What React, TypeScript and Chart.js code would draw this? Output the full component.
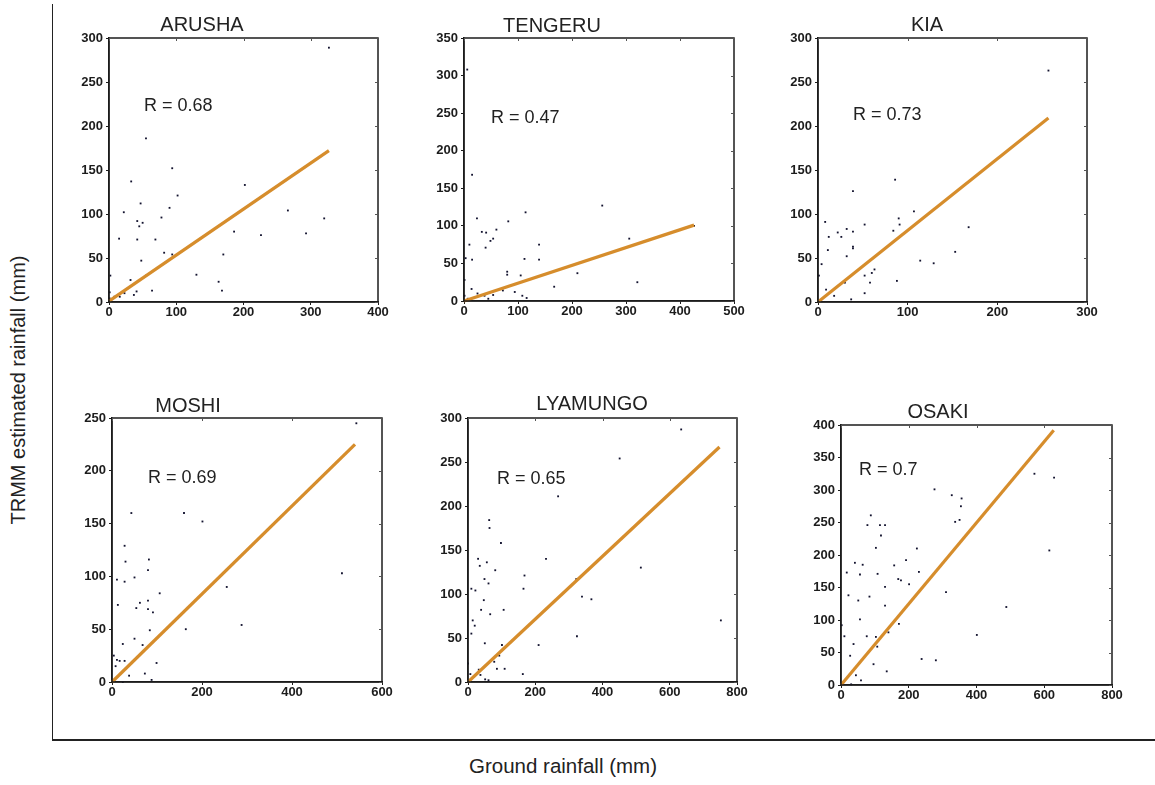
import React, { useEffect, useRef } from 'react';
import { Chart, registerables } from 'chart.js';

Chart.register(...registerables);

// ---------- data ----------
const stations = ['ARUSHA', 'TENGERU', 'KIA', 'MOSHI', 'LYAMUNGO', 'OSAKI'];
const rLabels = ['R = 0.68', 'R = 0.47', 'R = 0.73', 'R = 0.69', 'R = 0.65', 'R = 0.7'];
const xMaxes = [400, 500, 300, 600, 800, 800];
const xSteps = [100, 100, 100, 200, 200, 200];
const yMaxes = [300, 350, 300, 250, 300, 400];
const ySteps = [50, 50, 50, 50, 50, 50];

// [ground rainfall (mm), TRMM estimated rainfall (mm)]
const arushaPoints = [
  [327, 289], [55, 186], [94, 152], [33, 137], [202, 133], [102, 121], [47, 112], [90, 107], [22, 102], [266, 104],
  [78, 96], [42, 92], [45, 86], [50, 90], [320, 95], [15, 72], [42, 71], [69, 71], [186, 80], [226, 76],
  [293, 78], [82, 56], [94, 54], [170, 54], [48, 47], [2, 30], [130, 31], [55, 30], [32, 25], [163, 23],
  [168, 13], [64, 13], [41, 12], [23, 10], [16, 6], [37, 8], [1, 11], [1, 4], [8, 6],
];
const tengeruPoints = [
  [6, 308], [15, 168], [24, 110], [10, 75], [33, 92], [41, 91], [60, 95], [49, 80], [54, 83], [40, 71],
  [82, 106], [114, 118], [256, 127], [3, 57], [15, 55], [112, 56], [139, 75], [139, 55], [306, 83], [80, 39],
  [80, 35], [105, 34], [210, 37], [167, 19], [321, 25], [1, 28], [14, 16], [25, 10], [38, 7], [54, 8],
  [72, 14], [94, 12], [108, 7], [116, 4], [45, 3], [1, 7], [7, 3], [426, 100],
];
const kiaPoints = [
  [257, 263], [86, 139], [39, 126], [107, 103], [8, 91], [90, 95], [91, 88], [52, 88], [168, 85], [32, 83],
  [22, 79], [39, 80], [12, 74], [26, 74], [84, 81], [39, 63], [39, 61], [11, 59], [32, 52], [153, 57],
  [4, 43], [114, 47], [129, 44], [63, 37], [60, 33], [52, 30], [30, 22], [88, 24], [58, 22], [9, 14],
  [18, 7], [52, 10], [37, 3], [1, 30],
];
const moshiPoints = [
  [543, 245], [43, 160], [160, 160], [201, 152], [28, 129], [30, 114], [82, 116], [80, 106], [11, 97], [28, 95],
  [50, 99], [511, 103], [255, 90], [106, 84], [13, 73], [62, 75], [54, 70], [80, 77], [80, 69], [91, 66],
  [288, 54], [84, 49], [164, 50], [50, 41], [68, 35], [24, 36], [11, 21], [17, 20], [28, 20], [8, 15],
  [99, 18], [38, 6], [73, 8], [4, 2], [24, 0], [88, 2], [4, 25],
];
const lyamungoPoints = [
  [634, 287], [451, 254], [268, 211], [63, 184], [64, 175], [98, 158], [30, 140], [35, 132], [56, 136], [232, 140],
  [81, 127], [514, 130], [168, 121], [49, 117], [61, 112], [322, 117], [10, 106], [22, 104], [165, 106], [339, 97],
  [367, 94], [47, 93], [39, 82], [106, 82], [66, 77], [752, 70], [14, 70], [20, 64], [10, 55], [324, 52],
  [50, 44], [101, 42], [210, 42], [93, 30], [78, 23], [86, 15], [109, 15], [32, 14], [163, 9], [37, 8],
  [7, 9], [51, 3], [61, 2], [17, 6], [0, 21],
];
const osakiPoints = [
  [571, 325], [629, 319], [276, 301], [327, 292], [356, 287], [354, 275], [88, 261], [78, 246], [115, 246], [130, 246],
  [337, 251], [350, 254], [118, 230], [103, 211], [224, 210], [192, 192], [41, 188], [64, 185], [157, 184], [17, 173],
  [56, 170], [108, 171], [230, 174], [169, 163], [177, 161], [201, 155], [130, 151], [310, 143], [22, 138], [84, 136],
  [51, 130], [130, 122], [488, 120], [56, 101], [2, 92], [171, 94], [140, 81], [10, 75], [76, 75], [103, 74],
  [615, 207], [401, 77], [37, 63], [107, 59], [27, 45], [238, 40], [280, 38], [96, 32], [135, 21], [44, 15],
  [59, 7], [30, 1],
];
const stationPoints = [arushaPoints, tengeruPoints, kiaPoints, moshiPoints, lyamungoPoints, osakiPoints];

// regression lines: start and end [ground, TRMM]
const arushaFit = [[0, 1], [327, 172]];
const tengeruFit = [[0, 0], [426, 101]];
const kiaFit = [[0, 0], [257, 209]];
const moshiFit = [[0, 0], [540, 225]];
const lyamungoFit = [[0, 0], [748, 267]];
const osakiFit = [[0, 0], [628, 392]];
const stationFits = [arushaFit, tengeruFit, kiaFit, moshiFit, lyamungoFit, osakiFit];

// ---------- layout (page pixels of each plot area) ----------
const panelBoxes = [
  { L: 109, T: 38, R: 378, B: 302 },
  { L: 464, T: 38, R: 734, B: 301 },
  { L: 818, T: 38, R: 1087, B: 302 },
  { L: 112, T: 418, R: 382, B: 682 },
  { L: 468, T: 418, R: 737, B: 682 },
  { L: 841, T: 425, R: 1112, B: 685 },
];
// text offsets relative to chart area top-left
const titleOffsets = [[93, -13], [88, -12], [109, -13], [76, -12], [124, -14], [97, -13]];
const rOffsets = [[35, 68], [27, 80], [35, 77], [36, 60], [29, 61], [18, 45]];

const PAD_L = 60;
const PAD_T = 50;
const PAD_R = 30;
const PAD_B = 30;
const FONT = '"Liberation Sans", Arial, Helvetica, sans-serif';
const INK = '#1c1c1c';

const panelDecor = {
  id: 'panelDecor',
  afterDatasetsDraw(chart: any, _args: any, opts: any) {
    const { ctx, chartArea: a, scales } = chart;
    ctx.save();
    ctx.strokeStyle = INK;
    ctx.lineWidth = 1.5;
    ctx.strokeRect(a.left, a.top, a.right - a.left, a.bottom - a.top);
    ctx.lineWidth = 1;
    ctx.strokeStyle = '#555';
    scales.x.ticks.forEach((t: any) => {
      const px = Math.round(scales.x.getPixelForValue(t.value)) + 0.5;
      ctx.beginPath();
      ctx.moveTo(px, a.top);
      ctx.lineTo(px, a.top + 3);
      ctx.stroke();
    });
    scales.y.ticks.forEach((t: any) => {
      const py = Math.round(scales.y.getPixelForValue(t.value)) + 0.5;
      ctx.beginPath();
      ctx.moveTo(a.right, py);
      ctx.lineTo(a.right - 3, py);
      ctx.stroke();
    });
    ctx.fillStyle = '#222';
    ctx.textBaseline = 'middle';
    ctx.font = `20px ${FONT}`;
    ctx.textAlign = 'center';
    ctx.fillText(opts.title, a.left + opts.titleDx, a.top + opts.titleDy);
    ctx.font = `18px ${FONT}`;
    ctx.textAlign = 'left';
    ctx.fillText(opts.label, a.left + opts.labelDx, a.top + opts.labelDy);
    ctx.restore();
  },
};

function Panel({ idx }: { idx: number }) {
  const ref = useRef<HTMLCanvasElement | null>(null);
  const box = panelBoxes[idx];
  const w = box.R - box.L + PAD_L + PAD_R;
  const h = box.B - box.T + PAD_T + PAD_B;

  useEffect(() => {
    if (!ref.current) return;
    const tickFont = { family: FONT, size: 13, weight: 'bold' as const };
    const chart = new Chart(ref.current, {
      type: 'scatter',
      data: {
        datasets: [
          {
            data: stationFits[idx].map(([x, y]) => ({ x, y })),
            showLine: true,
            borderColor: '#D68D2C',
            borderWidth: 3.2,
            pointRadius: 0,
            clip: 4,
          },
          {
            data: stationPoints[idx].map(([x, y]) => ({ x, y })),
            backgroundColor: '#12122e',
            borderWidth: 0,
            pointRadius: 1.3,
            pointStyle: 'rect',
            clip: 4,
          },
        ],
      },
      options: {
        animation: false,
        responsive: false,
        devicePixelRatio: 1,
        events: [],
        layout: { padding: { top: PAD_T, right: PAD_R, left: 0, bottom: 0 } },
        plugins: {
          legend: { display: false },
          tooltip: { enabled: false },
          panelDecor: {
            title: stations[idx],
            titleDx: titleOffsets[idx][0],
            titleDy: titleOffsets[idx][1],
            label: rLabels[idx],
            labelDx: rOffsets[idx][0],
            labelDy: rOffsets[idx][1],
          },
        } as any,
        scales: {
          x: {
            type: 'linear',
            min: 0,
            max: xMaxes[idx],
            ticks: { stepSize: xSteps[idx], font: tickFont, color: INK, padding: 0, maxRotation: 0, autoSkip: false },
            grid: { display: true, drawOnChartArea: false, drawTicks: true, tickLength: 3, color: INK },
            border: { display: true, color: INK, width: 1.5 },
            afterFit: (s: any) => { s.height = PAD_B; },
          },
          y: {
            type: 'linear',
            min: 0,
            max: yMaxes[idx],
            ticks: { stepSize: ySteps[idx], font: tickFont, color: INK, padding: 3, autoSkip: false },
            grid: { display: true, drawOnChartArea: false, drawTicks: true, tickLength: 3, color: INK },
            border: { display: true, color: INK, width: 1.5 },
            afterFit: (s: any) => { s.width = PAD_L; },
          },
        },
      },
      plugins: [panelDecor],
    });
    return () => chart.destroy();
  }, [idx]);

  return (
    <canvas
      ref={ref}
      width={w}
      height={h}
      style={{ position: 'absolute', left: box.L - PAD_L, top: box.T - PAD_T, width: w, height: h }}
    />
  );
}

export default function App() {
  return (
    <div
      style={{
        position: 'absolute',
        left: 0,
        top: 0,
        width: 1155,
        height: 785,
        background: '#ffffff',
        overflow: 'hidden',
        fontFamily: FONT,
      }}
    >
      <div style={{ position: 'absolute', left: 52, top: 4, width: 1, height: 737, background: '#222' }} />
      <div style={{ position: 'absolute', left: 52, top: 739, width: 1103, height: 2, background: '#222' }} />
      <div
        style={{
          position: 'absolute',
          left: 18,
          top: 390,
          transform: 'translate(-50%, -50%) rotate(-90deg)',
          whiteSpace: 'nowrap',
          fontSize: 20,
          color: '#222',
        }}
      >
        TRMM estimated rainfall (mm)
      </div>
      <div
        style={{
          position: 'absolute',
          left: 563,
          top: 766,
          transform: 'translate(-50%, -50%)',
          whiteSpace: 'nowrap',
          fontSize: 20.5,
          color: '#222',
        }}
      >
        Ground rainfall (mm)
      </div>
      {stations.map((_, i) => (
        <Panel key={i} idx={i} />
      ))}
    </div>
  );
}
